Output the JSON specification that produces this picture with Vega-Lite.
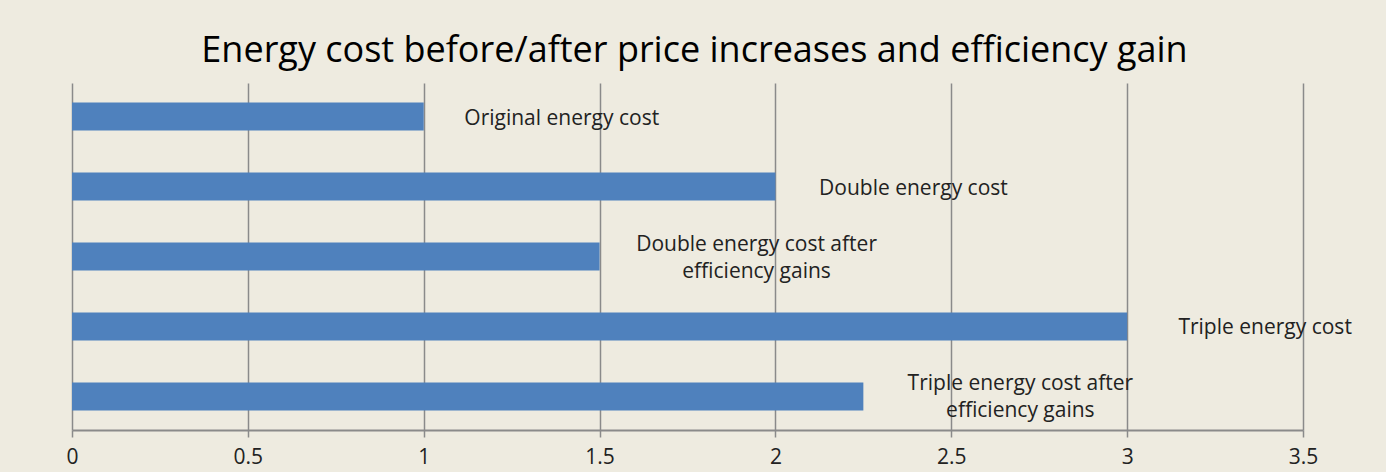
{
  "$schema": "https://vega.github.io/schema/vega-lite/v6.json",
  "width": 1231,
  "height": 347,
  "autosize": {"type": "none"},
  "padding": {"left": 72, "top": 83, "right": 83, "bottom": 42},
  "background": "#EEEBE0",
  "config": {"view": {"stroke": null}},
  "title": {
    "text": "Energy cost before/after price increases and efficiency gain",
    "font": "Open Sans",
    "fontSize": 36,
    "fontWeight": "normal",
    "color": "#000000",
    "anchor": "middle",
    "offset": 13,
    "dx": 7
  },
  "data": {
    "values": [
      {"name": "Original energy cost", "value": 1, "label": "Original energy cost"},
      {"name": "Double energy cost", "value": 2, "label": "Double energy cost"},
      {"name": "Double energy cost after efficiency gains", "value": 1.5, "label": "Double energy cost after\nefficiency gains"},
      {"name": "Triple energy cost", "value": 3, "label": "Triple energy cost"},
      {"name": "Triple energy cost after efficiency gains", "value": 2.25, "label": "Triple energy cost after\nefficiency gains"}
    ]
  },
  "encoding": {
    "y": {
      "field": "name",
      "type": "nominal",
      "sort": null,
      "axis": null,
      "scale": {"paddingInner": 0.6, "paddingOuter": 0.28}
    }
  },
  "layer": [
    {
      "mark": {"type": "bar", "color": "#4F81BD"},
      "encoding": {
        "x": {
          "field": "value",
          "type": "quantitative",
          "scale": {"domain": [0, 3.5], "nice": false},
          "axis": {
            "title": null,
            "values": [0, 0.5, 1, 1.5, 2, 2.5, 3, 3.5],
            "format": "~g",
            "grid": true,
            "gridColor": "#8A8A8A",
            "gridWidth": 1.5,
            "domainColor": "#8A8A8A",
            "domainWidth": 2,
            "tickColor": "#8A8A8A",
            "tickWidth": 1.5,
            "tickSize": 7,
            "labelFlush": false,
            "labelFont": "Open Sans",
            "labelFontSize": 21,
            "labelColor": "#222222",
            "labelPadding": 9
          }
        }
      }
    },
    {
      "transform": [{"filter": "indexof(datum.label, '\\n') < 0"}],
      "mark": {
        "type": "text",
        "align": "center",
        "baseline": "middle",
        "dx": 138,
        "dy": 2,
        "font": "Open Sans",
        "fontSize": 21,
        "color": "#222222"
      },
      "encoding": {
        "x": {"field": "value", "type": "quantitative"},
        "text": {"field": "label"}
      }
    },
    {
      "transform": [{"filter": "indexof(datum.label, '\\n') >= 0"}],
      "mark": {
        "type": "text",
        "align": "center",
        "baseline": "middle",
        "dx": 157,
        "dy": -12,
        "font": "Open Sans",
        "fontSize": 21,
        "color": "#222222",
        "lineBreak": "\n",
        "lineHeight": 27
      },
      "encoding": {
        "x": {"field": "value", "type": "quantitative"},
        "text": {"field": "label"}
      }
    }
  ]
}
